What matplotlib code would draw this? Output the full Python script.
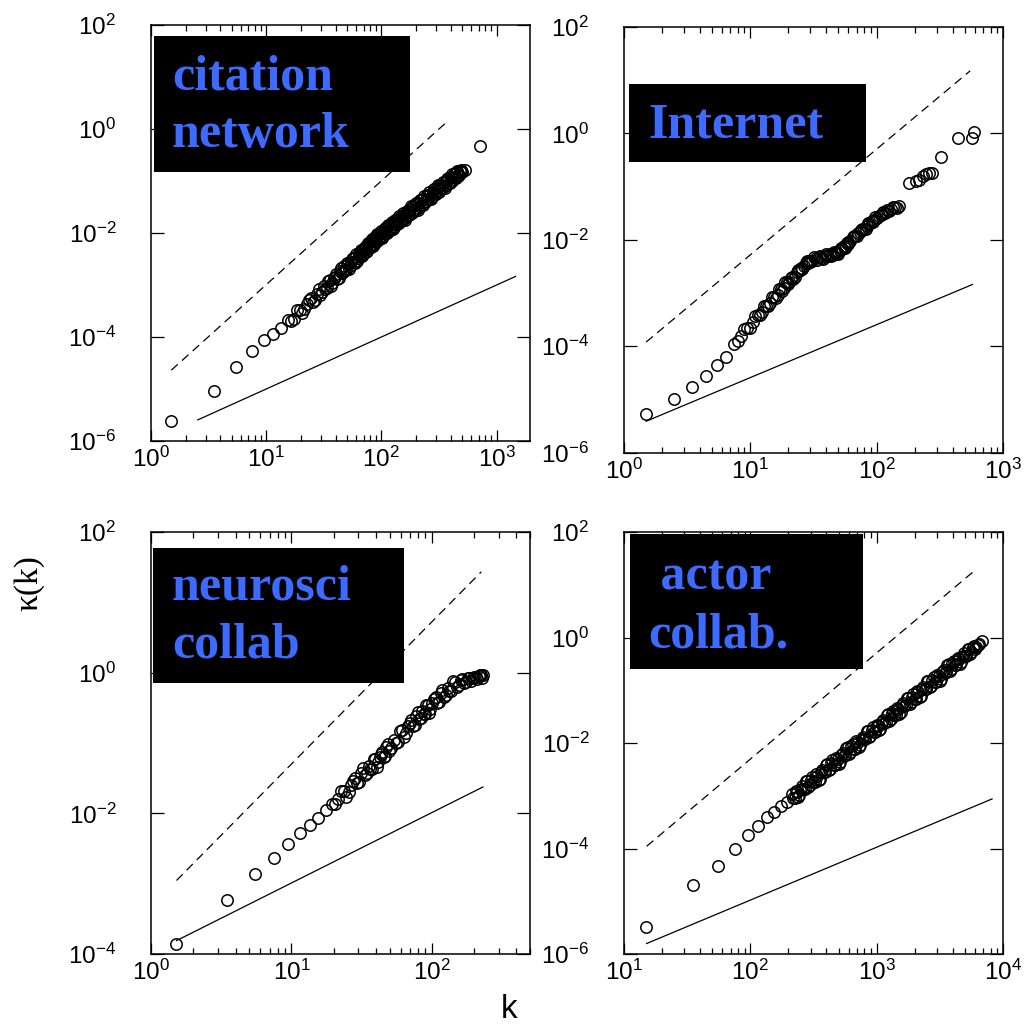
import matplotlib
matplotlib.use("Agg")
import matplotlib.pyplot as plt
from matplotlib.patches import Rectangle
from matplotlib.ticker import LogLocator, NullLocator, NullFormatter

plt.rcParams["font.family"] = ["Liberation Sans", "DejaVu Sans"]
plt.rcParams["mathtext.fontset"] = "custom"
plt.rcParams["mathtext.rm"] = "Liberation Sans"
plt.rcParams["mathtext.it"] = "Liberation Sans:italic"
plt.rcParams["mathtext.bf"] = "Liberation Sans:bold"

# ---------------- data ----------------
# citation network
citation_k = [1.5, 3.5, 5.5, 7.5, 9.5, 11.5, 13.5, 15.5, 17.5, 19.5, 21.5, 23.5, 25.5,
              27.5, 29.5, 31.5, 33.5, 35.5, 37.5, 39.5, 41.5, 43.5, 45.5, 47.5, 49.5,
              51.5, 53.5, 55.5, 57.5, 59.5, 61.5, 63.5, 65.5, 67.5, 69.5, 71.5, 73.5,
              75.5, 77.5, 79.5, 81.5, 83.5, 85.5, 87.5, 89.5, 91.5, 93.5, 95.5, 97.5,
              99.5, 103.5, 106.5, 109.5, 112.5, 115.5, 118.5, 121.5, 124.5, 127.5,
              131.5, 135.5, 139.5, 143.5, 147.5, 151.5, 156.5, 161.5, 166.5, 171.5,
              177.5, 183.5, 189.5, 195.5, 202.5, 209.5, 216.5, 223.5, 231.5, 239.5,
              247.5, 255.5, 264.5, 273.5, 283.5, 293.5, 303.5, 313.5, 324.5, 335.5,
              347.5, 359.5, 372.5, 385.5, 399.5, 413.5, 427.5, 441.5, 456.5, 471.5,
              486.5, 501.5, 530, 720,
              16.5, 18.5, 20.5, 22.5, 24.5, 26.5, 28.5, 30.5, 32.5, 34.5, 36.5, 38.5,
              40.5, 42.5, 44.5, 46.5, 48.5, 50.5, 52.5, 54.5, 56.5, 58.5, 60.5, 62.5,
              64.5, 66.5, 68.5, 70.5, 72.5, 74.5, 76.5, 78.5, 80.5, 82.5, 84.5, 86.5,
              88.5, 90.5, 92.5, 94.5, 96.5, 98.5, 101.5, 105, 108, 111, 114, 117, 120,
              123, 126, 129.5, 133.5, 137.5, 141.5, 145.5, 149.5, 154, 159, 164, 169,
              174.5, 180.5, 186.5, 192.5, 199, 206, 213, 220, 227.5, 235.5, 243.5,
              251.5, 260, 269, 278.5, 288.5, 298.5, 308.5, 319, 330, 341.5, 353.5, 366,
              379, 392.5, 406.5, 420.5, 434.5, 449, 464, 479, 494]
citation_kappa = [2.45e-6, 9.3e-6, 2.7e-5, 5.5e-5, 8.7e-5, 1.15e-4, 1.48e-4, 2.1e-4,
                  2.2e-4, 3.3e-4, 3.5e-4, 5.1e-4, 4.8e-4, 6.8e-4, 6.5e-4, 9.5e-4,
                  8.7e-4, 1.24e-3, 1.08e-3, 1.43e-3, 1.29e-3, 1.86e-3, 1.70e-3,
                  2.29e-3, 1.91e-3, 2.54e-3, 2.29e-3, 3.18e-3, 2.75e-3, 3.39e-3,
                  2.95e-3, 4.13e-3, 3.72e-3, 4.8e-3, 3.98e-3, 5.06e-3, 4.37e-3,
                  5.94e-3, 5.13e-3, 6.76e-3, 5.5e-3, 6.9e-3, 6.17e-3, 8.28e-3, 6.9e-3,
                  8.67e-3, 7.24e-3, 9.77e-3, 8.13e-3, 1.02e-2, 8.91e-3, 1.22e-2,
                  1.02e-2, 1.29e-2, 1.07e-2, 1.45e-2, 1.20e-2, 1.50e-2, 1.29e-2,
                  1.78e-2, 1.48e-2, 1.88e-2, 1.58e-2, 2.12e-2, 1.78e-2, 2.25e-2,
                  1.93e-2, 2.69e-2, 2.24e-2, 2.87e-2, 2.43e-2, 3.30e-2, 2.75e-2,
                  3.54e-2, 3.05e-2, 4.27e-2, 3.58e-2, 4.59e-2, 3.89e-2, 5.28e-2,
                  4.47e-2, 5.66e-2, 4.9e-2, 6.87e-2, 5.81e-2, 7.39e-2, 6.21e-2,
                  8.51e-2, 7.18e-2, 9.16e-2, 7.94e-2, 0.111, 9.33e-2, 0.120, 0.102,
                  0.138, 0.115, 0.148, 0.132, 0.162, 0.148, 0.166, 0.47,
                  2.03e-4, 3.24e-4, 2.85e-4, 4.37e-4, 5.58e-4, 5.12e-4, 8.22e-4,
                  7.19e-4, 8.41e-4, 1.20e-3, 9.57e-4, 1.35e-3, 1.61e-3, 1.38e-3,
                  2.10e-3, 1.75e-3, 1.95e-3, 2.67e-3, 2.06e-3, 2.80e-3, 3.24e-3,
                  2.70e-3, 4.0e-3, 3.25e-3, 3.56e-3, 4.76e-3, 3.59e-3, 4.81e-3,
                  5.46e-3, 4.49e-3, 6.55e-3, 5.25e-3, 5.66e-3, 7.5e-3, 5.58e-3,
                  7.38e-3, 8.3e-3, 6.75e-3, 9.75e-3, 7.74e-3, 8.28e-3, 1.09e-2,
                  8.15e-3, 1.09e-2, 1.23e-2, 1.0e-2, 1.45e-2, 1.15e-2, 1.23e-2,
                  1.61e-2, 1.19e-2, 1.58e-2, 1.78e-2, 1.46e-2, 2.11e-2, 1.69e-2,
                  1.81e-2, 2.40e-2, 1.79e-2, 2.39e-2, 2.70e-2, 2.22e-2, 3.24e-2,
                  2.61e-2, 2.82e-2, 3.77e-2, 2.83e-2, 3.78e-2, 4.30e-2, 3.53e-2,
                  5.19e-2, 4.17e-2, 4.52e-2, 6.03e-2, 4.53e-2, 6.07e-2, 6.92e-2,
                  5.70e-2, 8.34e-2, 6.71e-2, 7.29e-2, 9.75e-2, 7.33e-2, 9.82e-2,
                  0.112, 9.23e-2, 0.136, 0.109, 0.118, 0.158, 0.127, 0.157, 0.152]

# Internet
internet_k = [1.5, 2.5, 3.5, 4.5, 5.5, 6.5, 7.5, 8.5, 9.5, 10.5, 11.5, 12.5, 13.5,
              14.5, 15.5, 16.5, 17.5, 18.5, 19.5, 20.5, 21.5, 22.5, 23.5, 24.5, 25.5,
              26.5, 27.5, 28.5, 29.5, 31, 33, 35, 37, 39, 41, 43, 45, 47, 49, 51, 53,
              55, 57, 59, 62, 65, 68, 71, 74, 77, 80, 84, 88, 92, 96, 100, 105, 110,
              116, 122, 130, 140, 150, 181, 205, 217, 235, 245, 260, 277, 326, 442,
              564, 585,
              8, 9, 10, 11, 12, 13, 14, 15, 16, 17, 18, 19, 20, 21, 22, 24, 26, 28,
              30, 32, 34, 36, 38, 40, 44, 46, 50, 52, 56, 58, 60, 66, 70, 75, 82, 86,
              94, 98, 108, 113, 126, 135, 145]
internet_kappa = [5.4e-6, 1.02e-5, 1.7e-5, 2.75e-5, 4.37e-5, 6.3e-5, 1.10e-4, 1.58e-4,
                  2.19e-4, 2.82e-4, 3.8e-4, 4.37e-4, 5.75e-4, 6.61e-4, 8.51e-4,
                  9.12e-4, 1.17e-3, 1.26e-3, 1.58e-3, 1.62e-3, 2.0e-3, 2.04e-3,
                  2.51e-3, 2.57e-3, 3.02e-3, 3.16e-3, 3.63e-3, 3.72e-3, 3.98e-3,
                  4.07e-3, 4.47e-3, 4.68e-3, 4.57e-3, 5.01e-3, 4.90e-3, 5.37e-3,
                  5.25e-3, 5.75e-3, 5.62e-3, 6.31e-3, 6.61e-3, 7.59e-3, 7.76e-3,
                  9.12e-3, 9.55e-3, 1.12e-2, 1.17e-2, 1.35e-2, 1.38e-2, 1.58e-2,
                  1.62e-2, 1.82e-2, 1.95e-2, 2.24e-2, 2.34e-2, 2.63e-2, 2.75e-2,
                  3.09e-2, 3.24e-2, 3.63e-2, 3.72e-2, 4.07e-2, 4.27e-2, 0.115, 0.129,
                  0.133, 0.158, 0.174, 0.182, 0.178, 0.355, 0.83, 0.81, 1.07,
                  1.26e-4, 2.09e-4, 2.24e-4, 3.63e-4, 3.8e-4, 5.62e-4, 5.62e-4,
                  8.32e-4, 7.94e-4, 1.17e-3, 1.10e-3, 1.58e-3, 1.45e-3, 1.95e-3,
                  1.82e-3, 2.75e-3, 2.82e-3, 3.98e-3, 3.80e-3, 4.79e-3, 4.17e-3,
                  5.01e-3, 4.37e-3, 5.37e-3, 4.90e-3, 6.03e-3, 5.37e-3, 7.08e-3,
                  6.92e-3, 8.71e-3, 8.32e-3, 1.20e-2, 1.20e-2, 1.55e-2, 1.62e-2,
                  2.09e-2, 2.14e-2, 2.69e-2, 2.88e-2, 3.39e-2, 3.55e-2, 4.17e-2,
                  3.98e-2]

# neuroscience collaboration
neuro_k = [1.5, 3.5, 5.5, 7.5, 9.5, 11.5, 13.5, 15.5, 17.5, 19.5, 21.5, 23.5, 25.5,
           27.5, 29.5, 31.5, 33.5, 35.5, 37.5, 39.5, 41.5, 43.5, 45.5, 47.5, 49.5,
           53.5, 57.5, 61.5, 65.5, 69.5, 73.5, 77.5, 81.5, 85.5, 89.5, 93.5, 97.5,
           103.5, 109.5, 115.5, 121.5, 129.5, 137.5, 145.5, 155, 165, 175, 185, 195,
           205, 215, 225, 232,
           20.5, 22.5, 24.5, 26.5, 28.5, 30.5, 32.5, 34.5, 36.5, 38.5, 40.5, 42.5,
           44.5, 46.5, 48.5, 51.5, 55.5, 59.5, 63.5, 67.5, 71.5, 75.5, 79.5, 83.5,
           87.5, 91.5, 95.5, 100.5, 106.5, 112.5, 118.5, 125.5, 133.5, 141.5, 150,
           160, 170, 180, 190, 200, 210, 220, 228]
neuro_kappa = [1.41e-4, 5.9e-4, 1.35e-3, 2.29e-3, 3.63e-3, 5.25e-3, 6.92e-3, 8.51e-3,
               1.10e-2, 1.35e-2, 1.62e-2, 2.09e-2, 2.04e-2, 2.85e-2, 2.66e-2, 3.8e-2,
               3.47e-2, 4.68e-2, 4.27e-2, 5.89e-2, 5.31e-2, 7.08e-2, 6.31e-2, 8.71e-2,
               7.76e-2, 0.110, 0.105, 0.151, 0.141, 0.193, 0.176, 0.245, 0.219, 0.288,
               0.257, 0.351, 0.309, 0.417, 0.372, 0.513, 0.457, 0.603, 0.550, 0.741,
               0.661, 0.813, 0.741, 0.832, 0.851, 0.871, 0.891, 0.912, 0.933,
               1.37e-2, 2.07e-2, 1.73e-2, 2.54e-2, 3.13e-2, 2.77e-2, 4.34e-2,
               3.69e-2, 4.22e-2, 5.89e-2, 4.60e-2, 6.38e-2, 7.55e-2, 6.44e-2,
               9.73e-2, 8.39e-2, 0.101, 0.148, 0.120, 0.173, 0.209, 0.181, 0.276,
               0.230, 0.257, 0.352, 0.271, 0.376, 0.446, 0.380, 0.573, 0.480, 0.545,
               0.757, 0.619, 0.780, 0.702, 0.849, 0.762, 0.879, 0.804, 0.925, 0.839]

# actor collaboration
actor_k = [15, 35, 55, 75, 95, 115, 135, 155, 175, 195, 214, 224, 234, 245, 257, 269,
           282, 295, 309, 324, 339, 355, 372, 389, 407, 427, 447, 468, 490, 513, 537,
           562, 589, 617, 646, 676, 708, 741, 776, 813, 851, 891, 933, 977, 1023,
           1072, 1122, 1175, 1230, 1288, 1349, 1413, 1479, 1549, 1622, 1698, 1778,
           1862, 1950, 2042, 2138, 2239, 2344, 2455, 2570, 2692, 2818, 2951, 3090,
           3236, 3388, 3548, 3715, 3890, 4074, 4266, 4467, 4677, 4898, 5129, 5370,
           5623, 5888, 6166, 6457, 6761,
           219, 229, 240, 251, 263, 275, 288, 302, 316, 331, 347, 363, 380, 398, 417,
           437, 457, 479, 501, 525, 550, 575, 603, 631, 661, 692, 724, 759, 794, 832,
           871, 912, 955, 1000, 1047, 1096, 1148, 1202, 1259, 1318, 1380, 1445, 1514,
           1585, 1660, 1738, 1820, 1905, 1995, 2089, 2188, 2291, 2399, 2512, 2630,
           2754, 2884, 3020, 3162, 3311, 3467, 3631, 3802, 3981, 4169, 4365, 4571,
           4786, 5012, 5248, 5495, 5754, 6026, 6310]
actor_kappa = [3.24e-6, 2.0e-5, 4.68e-5, 9.77e-5, 1.82e-4, 2.69e-4, 3.94e-4, 5.01e-4,
               6.31e-4, 7.76e-4, 1.09e-3, 8.87e-4, 1.17e-3, 1.02e-3, 1.50e-3, 1.37e-3,
               1.93e-3, 1.57e-3, 2.26e-3, 1.83e-3, 2.42e-3, 2.10e-3, 3.10e-3, 2.82e-3,
               3.98e-3, 3.24e-3, 4.67e-3, 3.79e-3, 4.99e-3, 4.34e-3, 6.41e-3, 5.83e-3,
               8.24e-3, 6.68e-3, 9.64e-3, 7.83e-3, 1.03e-2, 8.97e-3, 1.32e-2, 1.21e-2,
               1.70e-2, 1.38e-2, 2.0e-2, 1.62e-2, 2.13e-2, 1.85e-2, 2.74e-2, 2.49e-2,
               3.52e-2, 2.85e-2, 4.12e-2, 3.34e-2, 4.41e-2, 3.83e-2, 5.65e-2, 5.15e-2,
               7.26e-2, 5.90e-2, 8.51e-2, 6.90e-2, 9.10e-2, 7.91e-2, 0.117, 0.106,
               0.150, 0.122, 0.176, 0.143, 0.188, 0.163, 0.242, 0.220, 0.310, 0.252,
               0.363, 0.295, 0.388, 0.338, 0.499, 0.454, 0.612, 0.520, 0.701, 0.653,
               0.766, 0.84,
               8.9e-4, 1.22e-3, 9.5e-4, 1.37e-3, 1.34e-3, 1.88e-3, 1.46e-3, 2.01e-3,
               1.84e-3, 2.53e-3, 1.96e-3, 2.83e-3, 2.76e-3, 3.90e-3, 3.02e-3,
               4.16e-3, 3.79e-3, 5.22e-3, 4.06e-3, 5.85e-3, 5.70e-3, 8.05e-3,
               6.24e-3, 8.61e-3, 7.83e-3, 1.08e-2, 8.37e-3, 1.21e-2, 1.18e-2,
               1.66e-2, 1.29e-2, 1.78e-2, 1.62e-2, 2.23e-2, 1.73e-2, 2.49e-2,
               2.44e-2, 3.44e-2, 2.67e-2, 3.67e-2, 3.34e-2, 4.61e-2, 3.57e-2,
               5.16e-2, 5.04e-2, 7.10e-2, 5.51e-2, 7.59e-2, 6.92e-2, 9.53e-2,
               7.38e-2, 0.107, 0.104, 0.147, 0.114, 0.157, 0.143, 0.197, 0.153,
               0.220, 0.215, 0.303, 0.235, 0.324, 0.295, 0.406, 0.316, 0.455, 0.445,
               0.598, 0.497, 0.670, 0.610, 0.733]

# reference power laws (end points): dashed ~ k^2, solid ~ k
citation_dash_k, citation_dash_kappa = [1.5, 373], [2.3e-5, 1.39]
citation_solid_k, citation_solid_kappa = [2.55, 1460], [2.55e-6, 1.46e-3]
internet_dash_k, internet_dash_kappa = [1.51, 550], [1.2e-4, 15.0]
internet_solid_k, internet_solid_kappa = [1.51, 574], [3.9e-6, 1.45e-3]
neuro_dash_k, neuro_dash_kappa = [1.52, 225], [1.11e-3, 27.2]
neuro_solid_k, neuro_solid_kappa = [1.52, 231], [1.55e-4, 2.37e-2]
actor_dash_k, actor_dash_kappa = [15.1, 6030], [1.1e-4, 19.0]
actor_solid_k, actor_solid_kappa = [15.1, 8190], [1.58e-6, 8.7e-4]

panel_titles = [["citation", "network"], ["Internet"], ["neurosci", "collab"],
                [" actor", "collab."]]
xlims = [(1, 1950), (1, 1000), (1, 500), (10, 1e4)]
ylims = [(1e-6, 1e2), (1e-6, 1e2), (1e-4, 1e2), (1e-6, 1e2)]
yticks_list = [[1e-6, 1e-4, 1e-2, 1e0, 1e2], [1e-6, 1e-4, 1e-2, 1e0, 1e2],
               [1e-4, 1e-2, 1e0, 1e2], [1e-6, 1e-4, 1e-2, 1e0, 1e2]]

# ---------------- layout (pixels) ----------------
W, H = 1025, 1027
fig = plt.figure(figsize=(W / 100, H / 100), dpi=100)


def fbox(l, t, r, b):
    return [l / W, 1 - b / H, (r - l) / W, (b - t) / H]


axes_px = [(151, 25, 530, 441), (623.5, 27, 1003, 452.7),
           (151, 532, 530, 954), (624, 532, 1003, 954)]
boxes_px = [(154, 36, 410, 172), (629, 84, 866, 162),
            (153, 548, 404, 683), (630, 534, 863, 669)]
title_pos = [[(172, 90), (172, 147)], [(648, 138)],
             [(172, 600), (172, 658)], [(648, 589), (648, 647)]]

series = [
    (citation_k, citation_kappa, citation_dash_k, citation_dash_kappa,
     citation_solid_k, citation_solid_kappa),
    (internet_k, internet_kappa, internet_dash_k, internet_dash_kappa,
     internet_solid_k, internet_solid_kappa),
    (neuro_k, neuro_kappa, neuro_dash_k, neuro_dash_kappa,
     neuro_solid_k, neuro_solid_kappa),
    (actor_k, actor_kappa, actor_dash_k, actor_dash_kappa,
     actor_solid_k, actor_solid_kappa),
]

for i, (kx, ky, dkx, dky, skx, sky) in enumerate(series):
    ax = fig.add_axes(fbox(*axes_px[i]))
    ax.set_xscale("log")
    ax.set_yscale("log")
    ax.plot(dkx, dky, color="black", lw=0.9, linestyle=(0, (7, 4.5)))
    ax.plot(skx, sky, color="black", lw=0.9)
    ax.plot(kx, ky, linestyle="none", marker="o", markersize=8.2,
            markerfacecolor="none", markeredgecolor="black", markeredgewidth=1.1)
    ax.set_xlim(*xlims[i])
    ax.set_ylim(*ylims[i])
    ax.xaxis.set_major_locator(LogLocator(base=10, numticks=10))
    ax.xaxis.set_minor_locator(LogLocator(base=10, subs=range(2, 10), numticks=10))
    ax.xaxis.set_minor_formatter(NullFormatter())
    ax.set_yticks(yticks_list[i])
    ax.yaxis.set_minor_locator(NullLocator())
    for sp in ax.spines.values():
        sp.set_linewidth(1.1)
    ax.tick_params(axis="x", which="major", direction="in", length=8, width=0.9,
                   top=True, labelsize=17.5, pad=4)
    ax.tick_params(axis="x", which="minor", direction="in", length=4, width=0.9,
                   top=True)
    ax.tick_params(axis="y", which="major", direction="in", length=9.5, width=0.9,
                   right=True, labelsize=17.5, pad=25)

# text boxes drawn over the panels
for (l, t, r, b), lines, pos in zip(boxes_px, panel_titles, title_pos):
    fig.add_artist(Rectangle((l / W, 1 - b / H), (r - l) / W, (b - t) / H,
                             transform=fig.transFigure, facecolor="black",
                             edgecolor="none", zorder=5))
    for txt, (x, y) in zip(lines, pos):
        fig.text(x / W, 1 - y / H, txt, ha="left", va="baseline",
                 fontsize=36, fontweight="bold", color="#3d6bff",
                 family=["Liberation Serif", "DejaVu Serif"], zorder=6)

fig.text(29 / W, 1 - 583 / H, "κ(k)", rotation=90, ha="center", va="center",
         fontsize=24, family=["Liberation Serif", "DejaVu Serif"])
fig.text(509 / W, 1 - 1010 / H, "k", ha="center", va="center", fontsize=24)

fig.savefig("out.png", dpi=100)
